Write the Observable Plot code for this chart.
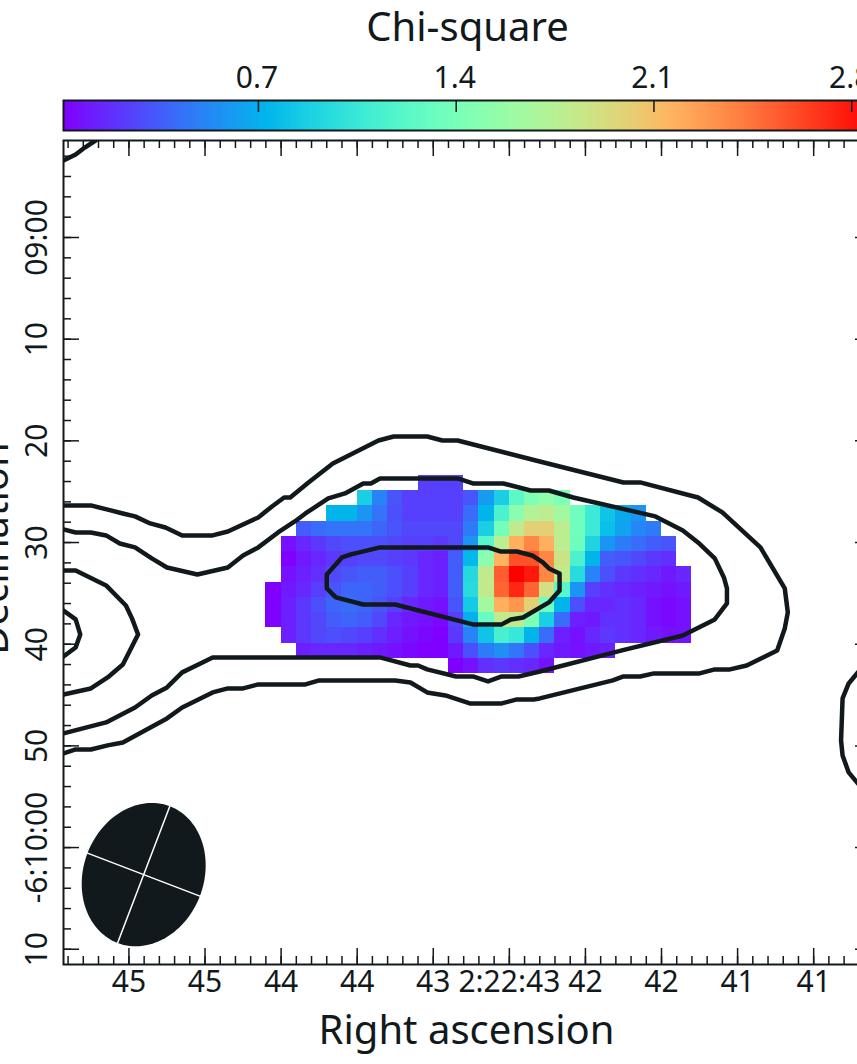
<!DOCTYPE html>
<html>
<head>
<meta charset="utf-8">
<style>
html,body{margin:0;padding:0;background:#fff;overflow:hidden;width:857px;height:1064px}
svg{display:block}
</style>
<script src="https://cdn.jsdelivr.net/npm/d3@7"></script>
<script src="https://cdn.jsdelivr.net/npm/@observablehq/plot@0.6"></script>
</head>
<body>
<div id="chart"></div>
<script>
// Chi-square map: first column (RA seconds 2:22:xx), first row (Dec arcsec past -6:09:00), cell size
const cellRaStart = 44.60, cellDecStart = 23.40, cellRaStep = 0.1, cellDecStep = 1.5;
const rowStartCol = [10,6,4,2,1,1,1,0,0,0,1,2,12];
const chiRow0 = [.24,.24,.24];
const chiRow1 = [.87,.50,.32,.24,.24,.24,.24,.32,.61,.87,1.24,1.44,1.53,1.44];
const chiRow2 = [.73,.73,.58,.44,.30,.24,.24,.24,.24,.41,.73,1.15,1.50,1.73,1.78,1.64,1.35,1.07,.81,.67,.58];
const chiRow3 = [.35,.41,.44,.44,.44,.38,.32,.27,.27,.27,.27,.47,.87,1.38,1.81,2.01,2.01,1.78,1.35,1.07,.78,.64,.52,.47];
const chiRow4 = [.07,.15,.21,.27,.30,.30,.30,.27,.24,.24,.21,.27,.58,1.21,1.78,2.18,2.36,2.18,1.78,1.33,.90,.58,.47,.41,.35,.32];
const chiRow5 = [.01,.10,.15,.21,.24,.27,.27,.24,.21,.15,.12,.35,.75,1.50,2.16,2.58,2.58,2.36,1.87,1.15,.73,.35,.32,.27,.21,.18];
const chiRow6 = [.07,.12,.18,.27,.32,.35,.35,.30,.24,.15,.12,.35,.93,1.81,2.53,2.87,2.78,2.36,1.81,.95,.50,.30,.21,.18,.15,.10,.15];
const chiRow7 = [.01,.10,.15,.24,.32,.38,.38,.35,.30,.24,.15,.12,.35,.95,1.81,2.50,2.73,2.50,1.90,1.21,.58,.24,.18,.15,.12,.10,.07,.10];
const chiRow8 = [.01,.12,.21,.30,.38,.41,.38,.32,.24,.15,.10,.07,.32,.84,1.64,2.18,2.30,2.01,1.35,.73,.30,.15,.15,.18,.15,.07,.04,.07];
const chiRow9 = [.01,.12,.21,.27,.35,.38,.35,.27,.15,.10,.07,.04,.24,.70,1.30,1.81,1.81,1.44,.87,.41,.12,.10,.18,.18,.15,.07,.04,.07];
const chiRow10 = [.12,.21,.27,.30,.27,.24,.18,.12,.07,.04,.01,.21,.50,.81,1.13,1.04,.73,.41,.12,.07,.15,.21,.18,.15,.10,.07,.07];
const chiRow11 = [.12,.15,.15,.15,.12,.10,.07,.04,.01,.01,.10,.30,.47,.55,.44,.30,.15,.10,.07,.10,.12];
const chiRow12 = [.01,.07,.18,.21,.18,.15,.07];
const chiRows = [chiRow0,chiRow1,chiRow2,chiRow3,chiRow4,chiRow5,chiRow6,chiRow7,chiRow8,chiRow9,chiRow10,chiRow11,chiRow12];

// Contours as [RA seconds, Dec arcsec past -6:09:00]
const contourOuter = [[45.93,26.35],[45.75,26.35],[45.62,26.84],[45.54,27.14],[45.46,27.43],[45.36,28.12],[45.26,28.52],[45.15,29.3],[44.95,29.3],[44.85,28.91],[44.65,27.53],[44.56,26.45],[44.48,25.57],[44.44,25.57],[44.32,24.09],[44.16,22.22],[43.86,19.96],[43.76,19.57],[43.54,19.57],[43.44,19.96],[43.34,19.96],[42.80,22.03],[42.25,24.09],[42.14,24.09],[41.76,25.57],[41.60,27.04],[41.35,30.48],[41.19,34.51],[41.17,36.87],[41.19,38.45],[41.24,40.61],[41.44,42.09],[41.55,42.48],[41.65,42.48],[41.75,42.87],[42.05,42.87],[42.14,43.17],[42.25,43.17],[42.32,43.56],[42.80,45.33],[42.84,45.43],[42.95,45.43],[43.05,45.82],[43.26,45.82],[43.42,45.04],[43.54,44.74],[43.65,43.76],[43.75,43.56],[44.25,43.56],[44.34,43.95],[44.65,43.95],[44.75,44.35],[44.85,44.35],[44.95,44.74],[45.15,46.22],[45.25,47.30],[45.54,49.66],[45.64,49.95],[45.75,50.35],[45.85,50.35],[45.93,50.74]];
const contourSecond = [[45.93,28.71],[45.85,29.01],[45.75,29.01],[45.65,29.3],[45.56,30.09],[45.46,30.48],[45.35,31.56],[45.25,32.45],[45.05,33.14],[44.85,32.45],[44.75,31.27],[44.65,30.48],[44.52,29.01],[44.41,27.93],[44.34,27.14],[44.19,25.66],[44.08,25.17],[43.96,24.19],[43.91,24.19],[43.85,23.70],[43.34,23.70],[43.24,24.19],[43.04,24.19],[42.86,24.88],[42.74,24.88],[42.58,25.57],[42.04,27.43],[41.86,28.81],[41.76,29.99],[41.65,31.56],[41.59,33.43],[41.57,34.51],[41.57,35.99],[41.65,37.56],[41.86,39.14],[42.26,40.61],[42.80,42.68],[42.94,43.17],[43.05,43.17],[43.14,43.66],[43.24,43.17],[43.35,43.17],[43.54,42.48],[43.60,42.09],[43.65,42.09],[43.85,41.30],[44.95,41.30],[45.03,41.89],[45.15,42.77],[45.25,44.25],[45.35,45.04],[45.46,46.22],[45.65,47.69],[45.93,48.77]];
const contourLeftMid = [[45.93,32.74],[45.85,32.74],[45.65,34.22],[45.52,36.19],[45.48,37.46],[45.44,39.04],[45.54,41.99],[45.64,43.27],[45.75,44.35],[45.93,44.94]];
const contourLeftInner = [[45.93,36.68],[45.85,37.56],[45.82,39.04],[45.85,40.32],[45.93,41.2]];
const contourCentral = [[43.85,30.48],[43.32,30.48],[43.14,30.48],[43.06,30.88],[42.95,30.88],[42.85,31.27],[42.78,31.96],[42.74,32.55],[42.67,33.04],[42.67,34.71],[42.74,35.89],[42.91,37.37],[42.99,37.56],[43.05,38.05],[43.24,38.05],[43.75,36.09],[43.96,36.09],[44.14,35.40],[44.20,34.51],[44.20,33.14],[44.10,31.47],[44.04,31.17],[43.85,30.48]];
const contourRight = [[40.62,41.6],[40.71,42.77],[40.77,43.86],[40.81,45.33],[40.82,49.46],[40.81,50.94],[40.77,52.61],[40.71,53.69],[40.62,55.06]];
const contourTopLeft = [[45.93,-7.57],[45.85,-8.16],[45.79,-8.85],[45.72,-9.54]];
const contours = [contourOuter,contourSecond,contourLeftMid,contourLeftInner,contourCentral,contourRight,contourTopLeft];

// Beam: centre, semi-axes (arcsec), position angle (deg), arcsec per RA second
const beamCenter = [45.403, 62.66], beamMajor = 7.2, beamMinor = 5.92, beamAngle = 20.9, arcsecPerSec = 14.97;

// Axes
const raDomain = [45.93, 40.62], decDomain = [-9.54, 71.5];
const raMajor = [45.5,45,44.5,44,43.5,43,42.5,42,41.5,41];
const raLabels = ["45","45","44","44","43","2:22:43","42","42","41","41"];
const raMinor = d3.range(45.9, 40.65, -0.1).map(d => +d.toFixed(1));
const decMajor = [0,10,20,30,40,50,60,70];
const decLabels = ["09:00","10","20","30","40","50","-6:10:00","10"];
const decMinor = d3.range(-8, 71, 2);
const chiTicks = [0.7,1.4,2.1,2.8];
const chiDomain = [0.01, 2.87];

const ink = "#12191c";
const fontFamily = "'Noto Sans', sans-serif";
const rainbow = t => {
  const r = Math.abs(2*t-0.5), g = Math.sin(Math.PI*t), b = Math.cos(Math.PI*t/2);
  return d3.rgb(255*Math.min(1,r), 255*g, 255*b).toString();
};
const colorScale = {type:"linear", domain:chiDomain, interpolate:rainbow, legend:false};
const W = 871;
const baseStyle = {fontFamily, color:ink, background:"#fff", maxWidth:"none", height:"auto", display:"block"};

// Colour bar
const barStops = d3.range(0, 400).map(i => chiDomain[0] + (chiDomain[1]-chiDomain[0])*i/400);
const barStep = (chiDomain[1]-chiDomain[0])/400;
const colorbar = Plot.plot({
  width:W, height:135, marginLeft:63, marginRight:0, marginTop:100, marginBottom:5,
  style:baseStyle,
  x:{domain:chiDomain, axis:null},
  y:{domain:[0,1], axis:null},
  color:colorScale,
  marks:[
    Plot.rect(barStops, {x1:d=>d, x2:d=>d+barStep*1.2, y1:0, y2:1, fill:d=>d, shapeRendering:"crispEdges"}),
    Plot.ruleX(chiTicks, {x:d=>d, y1:1, y2:0.6, stroke:ink, strokeWidth:1.5}),
    Plot.frame({stroke:ink, strokeWidth:2}),
    Plot.axisX({anchor:"top", ticks:chiTicks, tickFormat:d=>d3.format(".1f")(d), tickSize:0, tickPadding:13, dx:-1.5, fontSize:30, label:null, fill:ink}),
    Plot.text(["Chi-square"], {frameAnchor:"top", dy:-72, fontSize:40, fill:ink, lineAnchor:"middle"})
  ]
});

// Map
const cells = chiRows.flatMap((row, r) => row.map((v, i) => ({
  x1: cellRaStart - (rowStartCol[r]+i)*cellRaStep,
  x2: cellRaStart - (rowStartCol[r]+i+1)*cellRaStep,
  y1: cellDecStart + r*cellDecStep,
  y2: cellDecStart + (r+1)*cellDecStep,
  v
})));
const th = beamAngle*Math.PI/180;
const beamPoint = (u, v) => [ // u along major axis (up), v along minor axis (right)
  beamCenter[0] - (u*Math.sin(th) + v*Math.cos(th))/arcsecPerSec,
  beamCenter[1] - u*Math.cos(th) + v*Math.sin(th)
];
const beamOutline = d3.range(0, 361, 3).map(a => beamPoint(beamMajor*Math.cos(a*Math.PI/180), beamMinor*Math.sin(a*Math.PI/180)));
const beamCrossA = [beamPoint(beamMajor,0), beamPoint(-beamMajor,0)];
const beamCrossB = [beamPoint(0,beamMinor), beamPoint(0,-beamMinor)];

const secPerPx = (raDomain[0]-raDomain[1])/(W-63);
const arcPerPx = (decDomain[1]-decDomain[0])/824;
const majLen = 16, minLen = 8;
const vTicks = (vals, len) => [
  Plot.ruleX(vals, {x:d=>d, y1:decDomain[1], y2:decDomain[1]-len*arcPerPx, stroke:ink, strokeWidth:1.5}),
  Plot.ruleX(vals, {x:d=>d, y1:decDomain[0], y2:decDomain[0]+len*arcPerPx, stroke:ink, strokeWidth:1.5})
];
const hTicks = (vals, len) => [
  Plot.ruleY(vals, {y:d=>d, x1:raDomain[0], x2:raDomain[0]-len*secPerPx, stroke:ink, strokeWidth:1.5}),
  Plot.ruleY(vals, {y:d=>d, x1:raDomain[1], x2:raDomain[1]+len*secPerPx, stroke:ink, strokeWidth:1.5})
];
const raLabelOf = new Map(raMajor.map((d,i)=>[d,raLabels[i]]));
const decLabelOf = new Map(decMajor.map((d,i)=>[d,decLabels[i]]));

const map = Plot.plot({
  width:W, height:929, marginLeft:63, marginRight:0, marginTop:5, marginBottom:100,
  style:baseStyle,
  x:{domain:raDomain, axis:null},
  y:{domain:decDomain, reverse:true, axis:null},
  color:colorScale,
  marks:[
    Plot.rect(cells, {x1:"x1", x2:"x2", y1:"y1", y2:"y2", fill:"v", shapeRendering:"crispEdges"}),
    ...contours.map(c => Plot.line(c, {x:d=>d[0], y:d=>d[1], stroke:ink, strokeWidth:4.5, curve:"linear", clip:"frame"})),
    Plot.line(beamOutline, {x:d=>d[0], y:d=>d[1], fill:ink, stroke:"none"}),
    Plot.line(beamCrossA, {x:d=>d[0], y:d=>d[1], stroke:"#fff", strokeWidth:1.5}),
    Plot.line(beamCrossB, {x:d=>d[0], y:d=>d[1], stroke:"#fff", strokeWidth:1.5}),
    ...vTicks(raMinor, minLen), ...vTicks(raMajor, majLen),
    ...hTicks(decMinor, minLen), ...hTicks(decMajor, majLen),
    Plot.frame({stroke:ink, strokeWidth:2}),
    Plot.axisX({anchor:"bottom", ticks:raMajor, tickFormat:d=>raLabelOf.get(d), tickSize:0, tickPadding:6, fontSize:30, label:null, fill:ink}),
    Plot.axisY({anchor:"left", ticks:decMajor, tickFormat:d=>decLabelOf.get(d), tickSize:0, tickPadding:17, tickRotate:-90, fontSize:30, label:null, fill:ink}),
    Plot.text(["Right ascension"], {frameAnchor:"bottom", dx:-1, dy:67, fontSize:40, fill:ink, lineAnchor:"middle"}),
    Plot.text(["Declination"], {frameAnchor:"left", textAnchor:"middle", dx:-56, dy:-4, rotate:-90, fontSize:40, fill:ink, lineAnchor:"bottom"})
  ]
});

const root = document.getElementById("chart");
root.append(colorbar, map);
</script>
</body>
</html>
